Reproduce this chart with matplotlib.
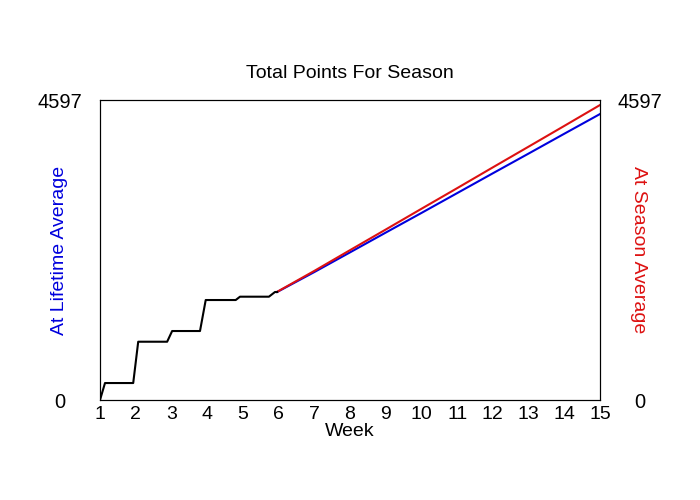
import matplotlib
matplotlib.use('Agg')
import matplotlib.pyplot as plt

plt.rcParams['font.family'] = ['Liberation Sans', 'DejaVu Sans']

title = 'Total Points For Season'
ymax = 4597

# actual points so far (weeks 1-6)
wk_actual = [1.0, 1.14, 1.93, 2.07, 2.88, 3.02, 3.80, 3.96, 4.80, 4.92, 5.73, 5.90, 5.96]
pts_actual = [0, 260, 260, 893, 893, 1057, 1057, 1532, 1532, 1583, 1583, 1655, 1655]

# projections from week 6 onwards
wk_proj = [5.96, 7, 8, 9, 10, 11, 12, 13, 14, 15]
pts_lifetime = [1655, 1960, 2262, 2565, 2866, 3170, 3474, 3776, 4080, 4382]
pts_season = [1658, 1978, 2296, 2612, 2930, 3246, 3565, 3882, 4200, 4520]

fig = plt.figure(figsize=(7, 5), dpi=100)
ax = fig.add_axes([100/700, 100/500, 500/700, 300/500])

ax.plot(wk_proj, pts_lifetime, color='#0000dd', lw=1.5)
ax.plot(wk_proj, pts_season, color='#dd1111', lw=1.5)
ax.plot(wk_actual, pts_actual, color='black', lw=1.5)

ax.set_xlim(1, 15)
ax.set_ylim(0, ymax)
ax.set_xticks(range(1, 16))
ax.set_yticks([0, ymax])
ax.tick_params(axis='x', length=0, pad=4, labelsize=14)
ax.tick_params(axis='y', length=0, pad=29, labelsize=14.5)
for t in ax.get_yticklabels():
    t.set_horizontalalignment('center')

ax2 = ax.twinx()
ax2.set_ylim(0, ymax)
ax2.set_yticks([0, ymax])
ax2.tick_params(axis='y', length=0, pad=29, labelsize=14.5)
for t in ax2.get_yticklabels():
    t.set_horizontalalignment('center')

ax.set_title(title, fontsize=14, pad=16)
ax.set_xlabel('Week', fontsize=14, labelpad=0)
ax.set_ylabel('At Lifetime Average', fontsize=14, color='#0000dd', va='center')
ax.yaxis.set_label_coords(-40/500, 0.5)
ax2.set_ylabel('At Season Average', fontsize=14, color='#dd1111', rotation=270, va='center')
ax2.yaxis.set_label_coords(538/500, 0.5)

plt.savefig('out.png', dpi=100)
